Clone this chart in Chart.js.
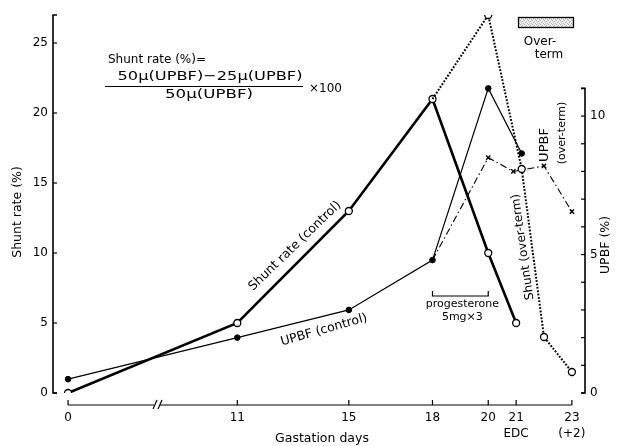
<!DOCTYPE html>
<html>
<head>
<meta charset="utf-8">
<script src="https://cdn.jsdelivr.net/npm/chart.js@4.4.1/dist/chart.umd.min.js"></script>
<style>
  html, body { margin: 0; padding: 0; background: #fff; }
  #wrap { width: 618px; height: 446px; }
</style>
</head>
<body>
<div id="wrap"><canvas id="chart"></canvas></div>
<script>
// Gestation day ticks (day 0 sits left of the axis break)
const tickDays = [0, 11, 15, 18, 20, 21, 23];
const tickLabels = ['0', '11', '15', '18', '20', ['21', 'EDC'], ['23', '(+2)']];
const BREAK_POS = 4.93; // where day 0 lands on the broken axis
const BREAK_AT = 8.12;

// Shunt rate (control), left axis %
const shuntCtrlDays = [0, 11, 15, 18, 20, 21];
const shuntCtrl = [0, 5, 13, 21, 10, 5];
// UPBF (control), right axis %
const upbfCtrlDays = [0, 11, 15, 18, 20, 21.2];
const upbfCtrl = [0.5, 2, 3, 4.8, 11, 8.65];
// Shunt rate (over-term), left axis %
const shuntOverDays = [18, 20, 21.2, 22, 23];
const shuntOver = [21, 27, 16, 4, 1.5];
// UPBF (over-term), right axis %
const upbfOverDays = [18, 20, 20.9, 22, 23];
const upbfOver = [4.8, 8.5, 8.0, 8.2, 6.55];

const leftTicks = [0, 5, 10, 15, 20, 25];
const rightTicks = [0, 1, 2, 3, 4, 5, 6, 7, 8, 9, 10, 11];
const rightLabels = [0, 5, 10];

const FONT = '"DejaVu Sans", sans-serif';

function pos(d) { return d === 0 ? BREAK_POS : d; }
function toXY(days, vals) { return days.map((d, i) => ({ x: pos(d), y: vals[i] })); }

function txt(ctx, s, x, y, size, angle, align, width) {
  ctx.save();
  ctx.translate(x, y);
  ctx.rotate((angle || 0) * Math.PI / 180);
  ctx.font = size + 'px ' + FONT;
  ctx.textAlign = align || 'center';
  ctx.textBaseline = 'middle';
  ctx.fillStyle = '#000';
  if (width) {
    const w = ctx.measureText(s).width;
    ctx.scale(width / w, 1);
  }
  ctx.fillText(s, 0, 0);
  ctx.restore();
}

function line(ctx, pts, w) {
  ctx.beginPath();
  ctx.lineWidth = w || 1;
  ctx.moveTo(pts[0][0], pts[0][1]);
  for (let i = 1; i < pts.length; i++) ctx.lineTo(pts[i][0], pts[i][1]);
  ctx.stroke();
}

// fine grey stipple for the over-term key
function stipple() {
  const c = document.createElement('canvas');
  c.width = 4; c.height = 4;
  const g = c.getContext('2d');
  g.fillStyle = '#eee'; g.fillRect(0, 0, 4, 4);
  g.fillStyle = '#aaa';
  [[0, 0], [2, 1], [1, 2], [3, 3]].forEach(p => g.fillRect(p[0], p[1], 1, 1));
  return c;
}

// Axis lines, ticks and annotations
const decor = {
  id: 'decor',
  afterDatasetsDraw(chart) {
    const ctx = chart.ctx;
    const x = chart.scales.x, yL = chart.scales.y, yR = chart.scales.y2;
    ctx.save();
    ctx.strokeStyle = '#000';
    ctx.lineCap = 'butt';

    // left axis with bracket ends
    const lx = chart.chartArea.left;
    line(ctx, [[lx + 4, yL.getPixelForValue(27)], [lx, yL.getPixelForValue(27)], [lx, yL.getPixelForValue(0)], [lx + 4, yL.getPixelForValue(0)]], 1.6);
    leftTicks.forEach(v => line(ctx, [[lx, yL.getPixelForValue(v)], [lx + 4, yL.getPixelForValue(v)]], 1.2));

    // right axis
    const rx = chart.chartArea.right;
    line(ctx, [[rx - 4, yR.getPixelForValue(11)], [rx, yR.getPixelForValue(11)], [rx, yR.getPixelForValue(0)], [rx - 4, yR.getPixelForValue(0)]], 1.6);
    rightTicks.forEach(v => line(ctx, [[rx, yR.getPixelForValue(v)], [rx - 4, yR.getPixelForValue(v)]], 1.2));

    // x axis with break
    const by = chart.chartArea.bottom + 12;
    const bx = x.getPixelForValue(BREAK_AT);
    line(ctx, [[x.getPixelForValue(BREAK_POS), by], [bx - 3, by]], 1.2);
    line(ctx, [[bx + 3, by], [x.getPixelForValue(23), by]], 1.2);
    line(ctx, [[bx - 4, by + 4], [bx, by - 5]], 1.2);
    line(ctx, [[bx + 1, by + 4], [bx + 5, by - 5]], 1.2);
    tickDays.forEach(d => line(ctx, [[x.getPixelForValue(pos(d)), by], [x.getPixelForValue(pos(d)), by - 5]], 1.2));

    // progesterone bracket, days 18-20
    const p1 = x.getPixelForValue(18), p2 = x.getPixelForValue(20);
    line(ctx, [[p1, 291], [p1, 296], [p2, 296], [p2, 291]], 1.2);
    txt(ctx, 'progesterone', (p1 + p2) / 2 + 2, 304, 11);
    txt(ctx, '5mg×3', (p1 + p2) / 2 + 2, 317, 11);

    // formula
    txt(ctx, 'Shunt rate (%)=', 108, 60, 12, 0, 'left');
    txt(ctx, '50μ(UPBF)−25μ(UPBF)', 210, 77, 13, 0, 'center', 185);
    line(ctx, [[105, 86.5], [303, 86.5]], 1);
    txt(ctx, '50μ(UPBF)', 209, 95, 13, 0, 'center', 88);
    txt(ctx, '×100', 309, 89, 12, 0, 'left');

    // series labels
    txt(ctx, 'Shunt rate (control)', 295, 246, 12.5, -44);
    txt(ctx, 'UPBF (control)', 324, 330, 12.5, -16);
    txt(ctx, 'Shunt (over-term)', 523, 247, 12, -98);
    txt(ctx, 'UPBF', 545, 145, 13, -90);
    txt(ctx, '(over-term)', 562, 133, 11, -90);

    // over-term key
    ctx.fillStyle = ctx.createPattern(stipple(), 'repeat');
    ctx.fillRect(518, 17, 55, 10);
    ctx.lineWidth = 1.3;
    ctx.strokeRect(518.5, 17.5, 55, 10);
    txt(ctx, 'Over-', 540, 42, 12);
    txt(ctx, 'term', 549, 55, 12);

    // axis titles
    txt(ctx, 'Shunt rate (%)', 18, 212, 12.5, -90);
    txt(ctx, 'UPBF (%)', 606, 245, 12.5, -90);
    txt(ctx, 'Gastation days', 322, 439, 12.5);
    ctx.restore();
  }
};

const ctx = document.getElementById('chart').getContext('2d');
new Chart(ctx, {
  type: 'line',
  data: {
    datasets: [
      {
        data: toXY(shuntCtrlDays, shuntCtrl), yAxisID: 'y', order: 1,
        borderColor: '#000', borderWidth: 2.6,
        pointRadius: 3.5, pointBackgroundColor: '#fff', pointBorderColor: '#000', pointBorderWidth: 1.3
      },
      {
        data: toXY(upbfCtrlDays, upbfCtrl), yAxisID: 'y2', order: 2,
        borderColor: '#000', borderWidth: 1.2,
        pointRadius: 2.8, pointBackgroundColor: '#000', pointBorderColor: '#000', pointBorderWidth: 1
      },
      {
        data: toXY(shuntOverDays, shuntOver), yAxisID: 'y', order: 0,
        borderColor: '#000', borderWidth: 2, borderDash: [1.8, 1.6],
        pointRadius: [0, 3.5, 3.5, 3.5, 3.5], pointBackgroundColor: '#fff', pointBorderColor: '#000', pointBorderWidth: 1.3
      },
      {
        data: toXY(upbfOverDays, upbfOver), yAxisID: 'y2', order: 3,
        borderColor: '#000', borderWidth: 1.1, borderDash: [7, 3, 1.5, 3],
        pointStyle: 'crossRot', pointRadius: [0, 3, 3, 3, 3], pointBorderColor: '#000', pointBorderWidth: 1.4
      }
    ]
  },
  options: {
    responsive: true,
    maintainAspectRatio: false,
    animation: false,
    layout: { padding: { top: 15, left: 0, right: 0, bottom: 0 } },
    plugins: { legend: { display: false }, tooltip: { enabled: false } },
    elements: { line: { tension: 0 } },
    scales: {
      x: {
        type: 'linear', min: 4.39, max: 23.47,
        afterBuildTicks: s => { s.ticks = tickDays.map(d => ({ value: pos(d) })); },
        afterFit: s => { s.height = 53; },
        grid: { display: false, drawTicks: false },
        border: { display: false },
        ticks: {
          padding: 17, autoSkip: false, maxRotation: 0, color: '#000',
          font: { family: FONT, size: 12, lineHeight: 1.33 },
          callback: (v, i) => tickLabels[i]
        }
      },
      y: {
        position: 'left', min: 0, max: 27,
        afterBuildTicks: s => { s.ticks = leftTicks.map(v => ({ value: v })); },
        afterFit: s => { s.width = 53; },
        grid: { display: false, drawTicks: false },
        border: { display: false },
        ticks: { padding: 5, color: '#000', font: { family: FONT, size: 12 } }
      },
      y2: {
        position: 'right', min: 0, max: 13.65,
        afterBuildTicks: s => { s.ticks = rightLabels.map(v => ({ value: v })); },
        afterFit: s => { s.width = 33; },
        grid: { display: false, drawTicks: false },
        border: { display: false },
        ticks: { padding: 5, color: '#000', font: { family: FONT, size: 12 } }
      }
    }
  },
  plugins: [decor]
});
</script>
</body>
</html>
